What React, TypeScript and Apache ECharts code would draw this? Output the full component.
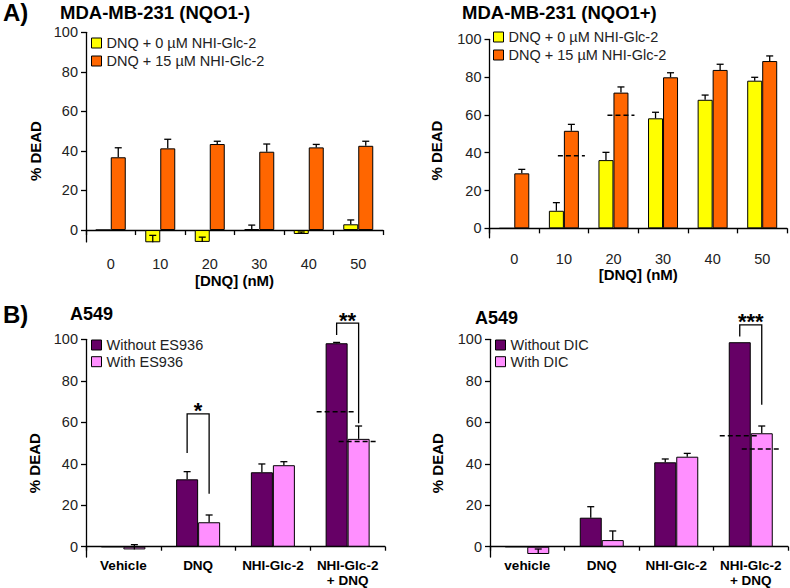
import React, { useEffect, useRef } from 'react';
import * as echarts from 'echarts';

const FONT = '"Liberation Sans", Arial, Helvetica, sans-serif';

// ---------- data ----------
const yTicks = [0, 20, 40, 60, 80, 100];
const doseCats = ['0', '10', '20', '30', '40', '50'];

const negNoGlc = [0, -6.2, -6.0, 0.5, -2.0, 2.9];
const negNoGlcErr = [0, 3.5, 2.4, 2.0, 1.0, 2.2];
const negGlc = [36.8, 41.3, 43.5, 39.6, 41.8, 42.6];
const negGlcErr = [4.8, 4.6, 1.4, 3.9, 1.5, 2.3];

const posNoGlc = [0, 9.3, 36.1, 58.2, 68.0, 78.1];
const posNoGlcErr = [0, 4.3, 4.1, 3.2, 2.5, 1.8];
const posGlc = [29.1, 51.6, 71.8, 79.9, 83.8, 88.5];
const posGlcErr = [2.1, 3.4, 3.0, 2.4, 3.0, 2.7];
// [category index, bar index, value]
const posDashes = [[1, 1, 38.4], [2, 1, 59.8]];

const esCats = ['Vehicle', 'DNQ', 'NHI-Glc-2', 'NHI-Glc-2\n+ DNQ'];
const esWithout = [0, 32.5, 35.9, 98.1];
const esWithoutErr = [0, 3.7, 4.0, 0.4];
const esWith = [-1.3, 11.8, 39.3, 52.0];
const esWithErr = [2.3, 3.5, 1.7, 6.2];
// [category index, bracket top, left leg end, right leg end]
const esBrackets = [[1, 64, 45.2, 25.6], [3, 107.8, 102.1, 59.5]];
const esStars = ['*', '**'];
const esDashes = [[3, 0, 65.1], [3, 1, 50.7]];

const dicCats = ['vehicle', 'DNQ', 'NHI-Glc-2', 'NHI-Glc-2\n+ DNQ'];
const dicWithout = [0, 14.0, 40.7, 98.6];
const dicWithoutErr = [0, 5.3, 1.6, 0];
const dicWith = [-3.5, 3.2, 43.4, 54.7];
const dicWithErr = [2.4, 4.4, 1.6, 3.5];
const dicBrackets = [[3, 107, 101.3, 68.4]];
const dicStars = ['***'];
const dicDashes = [[3, 0, 53.5], [3, 1, 47.1]];

const legNo = 'DNQ + 0 µM NHI-Glc-2';
const legGlc = 'DNQ + 15 µM NHI-Glc-2';

// ---------- styles ----------
const YELLOW = '#FFFF00';
const ORANGE = '#FF6600';
const PURPLE = '#660066';
const PINK = '#FF8FFF';

function barSeries(name: string, data: number[], color: string, g: number, bw: number) {
  return {
    type: 'bar',
    name,
    xAxisIndex: g,
    yAxisIndex: g,
    data,
    barWidth: bw,
    barGap: '0%',
    itemStyle: { color, borderColor: '#000', borderWidth: 1 },
    z: 2,
  };
}

function errSeries(vals: number[], errs: number[], g: number, offset: number) {
  const data: number[][] = [];
  vals.forEach((v, i) => {
    if (errs[i] > 0) data.push([i, v, errs[i]]);
  });
  return {
    type: 'custom',
    xAxisIndex: g,
    yAxisIndex: g,
    z: 5,
    silent: true,
    data,
    encode: { x: 0, y: 1 },
    renderItem: (params: any, api: any) => {
      const c = api.value(0);
      const v = api.value(1);
      const e = api.value(2);
      const p0 = api.coord([c, v]);
      const p1 = api.coord([c, v + e]);
      const x = p0[0] + offset;
      const st = { stroke: '#000', lineWidth: 1.3 };
      return {
        type: 'group',
        children: [
          { type: 'line', shape: { x1: x, y1: p0[1], x2: x, y2: p1[1] }, style: st },
          { type: 'line', shape: { x1: x - 3.5, y1: p1[1], x2: x + 3.5, y2: p1[1] }, style: st },
        ],
      };
    },
  };
}

function dashSeries(dashes: number[][], g: number, bw: number, half: number) {
  return {
    type: 'custom',
    xAxisIndex: g,
    yAxisIndex: g,
    z: 6,
    silent: true,
    clip: false,
    data: dashes,
    encode: { x: 0, y: 2 },
    renderItem: (params: any, api: any) => {
      const c = api.value(0);
      const b = api.value(1);
      const v = api.value(2);
      const p = api.coord([c, v]);
      const x = p[0] + (b - 0.5) * bw;
      return {
        type: 'line',
        shape: { x1: x - half, y1: p[1], x2: x + half, y2: p[1] },
        style: { stroke: '#000', lineWidth: 1.5, lineDash: [5, 3] },
      };
    },
  };
}

function bracketSeries(br: number[][], stars: string[], g: number, bw: number) {
  return {
    type: 'custom',
    xAxisIndex: g,
    yAxisIndex: g,
    z: 6,
    silent: true,
    clip: false,
    data: br,
    encode: { x: 0, y: 1 },
    renderItem: (params: any, api: any) => {
      const c = api.value(0);
      const top = api.coord([c, api.value(1)]);
      const l = api.coord([c, api.value(2)]);
      const r = api.coord([c, api.value(3)]);
      const xl = top[0] - bw / 2;
      const xr = top[0] + bw / 2;
      return {
        type: 'group',
        children: [
          {
            type: 'polyline',
            shape: { points: [[xl, l[1]], [xl, top[1]], [xr, top[1]], [xr, r[1]]] },
            style: { stroke: '#000', lineWidth: 1.3, fill: 'none' },
          },
          {
            type: 'text',
            x: (xl + xr) / 2,
            y: top[1] - 3,
            style: {
              text: stars[params.dataIndex],
              fontSize: 22,
              fontWeight: 'bold',
              fontFamily: FONT,
              fill: '#000',
              align: 'center',
              verticalAlign: 'middle',
            },
          },
        ],
      };
    },
  };
}

function yAxis(g: number, min: number, nameGap: number, shift: number) {
  return {
    type: 'value',
    gridIndex: g,
    min,
    max: 100,
    name: '% DEAD',
    nameLocation: 'middle',
    nameGap,
    nameMoveOverlap: false,
    nameTextStyle: {
      fontFamily: FONT,
      fontSize: 15,
      fontWeight: 'bold',
      color: '#000',
      padding: [0, shift * 2, 0, 0],
    },
    axisLine: { show: true, lineStyle: { color: '#000', width: 1.3 } },
    axisTick: { show: true, length: 5, customValues: yTicks, lineStyle: { color: '#000', width: 1.3 } },
    axisLabel: {
      customValues: yTicks,
      margin: 8,
      fontFamily: FONT,
      fontSize: 14.5,
      color: '#222',
    },
    splitLine: { show: false },
  };
}

function xAxis(g: number, cats: string[], bold: boolean, margin: number, name: string, nameGap: number) {
  return {
    type: 'category',
    gridIndex: g,
    data: cats,
    name,
    nameLocation: 'middle',
    nameGap,
    nameMoveOverlap: false,
    nameTextStyle: { fontFamily: FONT, fontSize: 15, fontWeight: 'bold', color: '#000' },
    axisLine: { show: true, onZero: true, lineStyle: { color: '#000', width: 1.3 } },
    axisTick: { show: true, interval: 0, length: bold ? 4 : 5, lineStyle: { color: '#000', width: 1.3 } },
    axisLabel: {
      interval: 0,
      margin,
      fontFamily: FONT,
      fontSize: bold ? 13.5 : 14.5,
      fontWeight: bold ? 'bold' : 'normal',
      lineHeight: bold ? 15 : 17,
      color: bold ? '#000' : '#222',
    },
    splitLine: { show: false },
  };
}

function legend(names: string[], left: number, top: number, gap: number) {
  return {
    data: names,
    orient: 'vertical',
    left,
    top,
    padding: 0,
    itemGap: gap,
    itemWidth: 10,
    itemHeight: 10,
    icon: 'rect',
    selectedMode: false,
    itemStyle: { borderColor: '#000', borderWidth: 1 },
    textStyle: { fontFamily: FONT, fontSize: 14.5, color: '#222', lineHeight: 16 },
  };
}

function title(text: string, left: number, top: number, size: number) {
  return {
    text,
    left,
    top,
    padding: 0,
    textStyle: { fontFamily: FONT, fontSize: size, fontWeight: 'bold', color: '#000' },
  };
}

function grid(left: number, top: number, width: number, height: number) {
  return { left, top, width, height, outerBoundsMode: 'none', containLabel: false };
}

export default function App() {
  const ref = useRef<HTMLDivElement>(null);
  useEffect(() => {
    if (!ref.current) return;
    const chart = echarts.init(ref.current, undefined, { renderer: 'svg' });
    const option = {
      animation: false,
      backgroundColor: '#fff',
      title: [
        title('A)', 3, 0, 24),
        title('MDA-MB-231 (NQO1-)', 60, 3, 18.5),
        title('MDA-MB-231 (NQO1+)', 462, 3, 18.5),
        title('B)', 3, 302, 24),
        title('A549', 70, 305, 18),
        title('A549', 475, 309, 18),
      ],
      legend: [
        legend([legNo, legGlc], 91, 35, 2),
        legend([legNo, legGlc], 493, 29, 2),
        legend(['Without ES936', 'With ES936'], 91, 337, 0.7),
        legend(['Without DIC', 'With DIC'], 495, 337, 0.7),
      ],
      grid: [
        grid(86, 32.3, 297, 209.6),
        grid(489.5, 39.3, 297.5, 198.5),
        grid(86, 339.3, 299, 217.8),
        grid(490, 339.3, 298, 217.8),
      ],
      xAxis: [
        xAxis(0, doseCats, false, 14, '[DNQ] (nM)', 31),
        xAxis(1, doseCats, false, 13, '[DNQ] (nM)', 29.5),
        xAxis(2, esCats, true, 1, '', 0),
        xAxis(3, dicCats, true, 1, '', 0),
      ],
      yAxis: [
        yAxis(0, -6, 43, 14),
        yAxis(1, -5, 46, 12),
        yAxis(2, -5, 44, 15),
        yAxis(3, -5, 45, 15),
      ],
      series: [
        barSeries(legNo, negNoGlc, YELLOW, 0, 15),
        barSeries(legGlc, negGlc, ORANGE, 0, 15),
        errSeries(negNoGlc, negNoGlcErr, 0, -7.5),
        errSeries(negGlc, negGlcErr, 0, 7.5),

        barSeries(legNo, posNoGlc, YELLOW, 1, 15),
        barSeries(legGlc, posGlc, ORANGE, 1, 15),
        errSeries(posNoGlc, posNoGlcErr, 1, -7.5),
        errSeries(posGlc, posGlcErr, 1, 7.5),
        dashSeries(posDashes, 1, 15, 13.5),

        barSeries('Without ES936', esWithout, PURPLE, 2, 22),
        barSeries('With ES936', esWith, PINK, 2, 22),
        errSeries(esWithout, esWithoutErr, 2, -11),
        errSeries(esWith, esWithErr, 2, 11),
        dashSeries(esDashes, 2, 22, 20),
        bracketSeries(esBrackets, esStars, 2, 22),

        barSeries('Without DIC', dicWithout, PURPLE, 3, 22),
        barSeries('With DIC', dicWith, PINK, 3, 22),
        errSeries(dicWithout, dicWithoutErr, 3, -11),
        errSeries(dicWith, dicWithErr, 3, 11),
        dashSeries(dicDashes, 3, 22, 20),
        bracketSeries(dicBrackets, dicStars, 3, 22),
      ],
    };
    chart.setOption(option as any);
    return () => chart.dispose();
  }, []);
  return (
    <div
      ref={ref}
      style={{ position: 'fixed', left: 0, top: 0, width: 790, height: 588, background: '#fff' }}
    />
  );
}
